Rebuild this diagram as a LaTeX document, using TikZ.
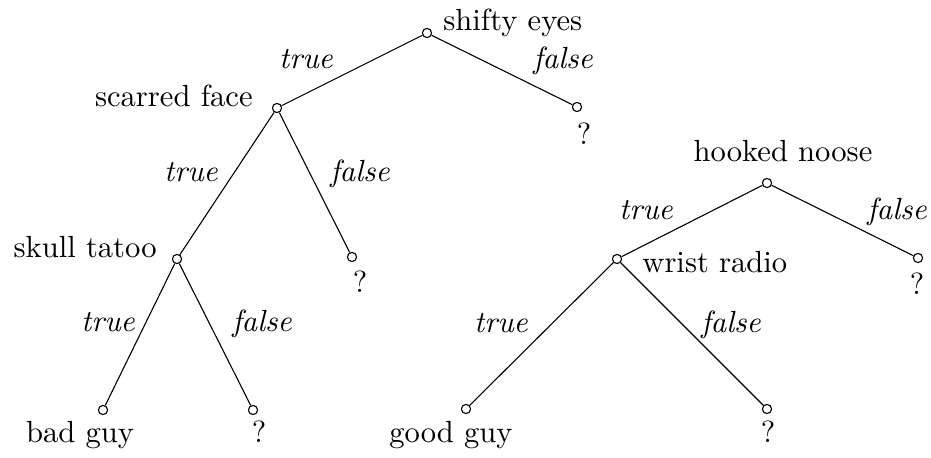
\documentclass[tikz,border=0pt]{standalone}
\usepackage{fontspec}
\setmainfont{lmroman10-regular}[Extension=.otf, ItalicFont=lmroman10-italic]
\usepackage{tikz}
\usetikzlibrary{positioning}

\begin{document}
\begin{tikzpicture}[x=0.5pt, y=-0.5pt,
    test/.style={circle, draw, minimum size=4.6pt, inner sep=0pt, line width=0.55pt},
    attr/.style={inner sep=0pt, font=\fontsize{15.3}{18}\selectfont},
    branch/.style={inner sep=0pt, font=\fontsize{15.3}{18}\selectfont\itshape, anchor=base},
    edge/.style={line width=0.55pt}]

    \useasboundingbox (0,0) rectangle (931,458);

    % Left tree
    \node[test] (shifty) at (427,33) {};
    \node[test] (scarred) at (277,108) {};
    \node[test] (q1) at (577,107) {};
    \node[test] (skull) at (177,259) {};
    \node[test] (q2) at (352,257) {};
    \node[test] (bad) at (103,410) {};
    \node[test] (q3) at (253,410) {};

    \node[attr, anchor=base west] (shiftyL) at (443,31) {shifty eyes};
    \node[attr, anchor=base east] (scarredL) at (253,107) {scarred face};
    \node[attr, anchor=base east] (skullL) at (157,258) {skull tatoo};
    \node[attr, anchor=base] (badL) at (80,443) {bad guy};
    \node[attr, anchor=base] (q1L) at (584,145) {?};
    \node[attr, anchor=base] (q2L) at (360,293) {?};
    \node[attr, anchor=base] (q3L) at (259,443) {?};

    % Right tree
    \node[test] (hooked) at (767,183) {};
    \node[test] (wrist) at (617,259) {};
    \node[test] (q4) at (918,258) {};
    \node[test] (good) at (466,409) {};
    \node[test] (q5) at (767,409) {};

    \node[attr, anchor=base] (hookedL) at (783,162) {hooked noose};
    \node[attr, anchor=base west] (wristL) at (642,273) {wrist radio};
    \node[attr, anchor=base] (goodL) at (451,443) {good guy};
    \node[attr, anchor=base] (q4L) at (917,295) {?};
    \node[attr, anchor=base] (q5L) at (768,443) {?};

    % Branches
    \draw[edge] (shifty) -- (scarred);
    \draw[edge] (shifty) -- (q1);
    \draw[edge] (scarred) -- (skull);
    \draw[edge] (scarred) -- (q2);
    \draw[edge] (skull) -- (bad);
    \draw[edge] (skull) -- (q3);
    \draw[edge] (hooked) -- (wrist);
    \draw[edge] (hooked) -- (q4);
    \draw[edge] (wrist) -- (good);
    \draw[edge] (wrist) -- (q5);

    % Branch labels
    \node[branch] (t1) at (306,69) {true};
    \node[branch] (f1) at (563,69) {false};
    \node[branch] (t2) at (191,182) {true};
    \node[branch] (f2) at (360,182) {false};
    \node[branch] (t3) at (108,332) {true};
    \node[branch] (f3) at (262,332) {false};
    \node[branch] (t4) at (646,220) {true};
    \node[branch] (f4) at (897,220) {false};
    \node[branch] (t5) at (501,333) {true};
    \node[branch] (f5) at (731,333) {false};
\end{tikzpicture}
\end{document}
